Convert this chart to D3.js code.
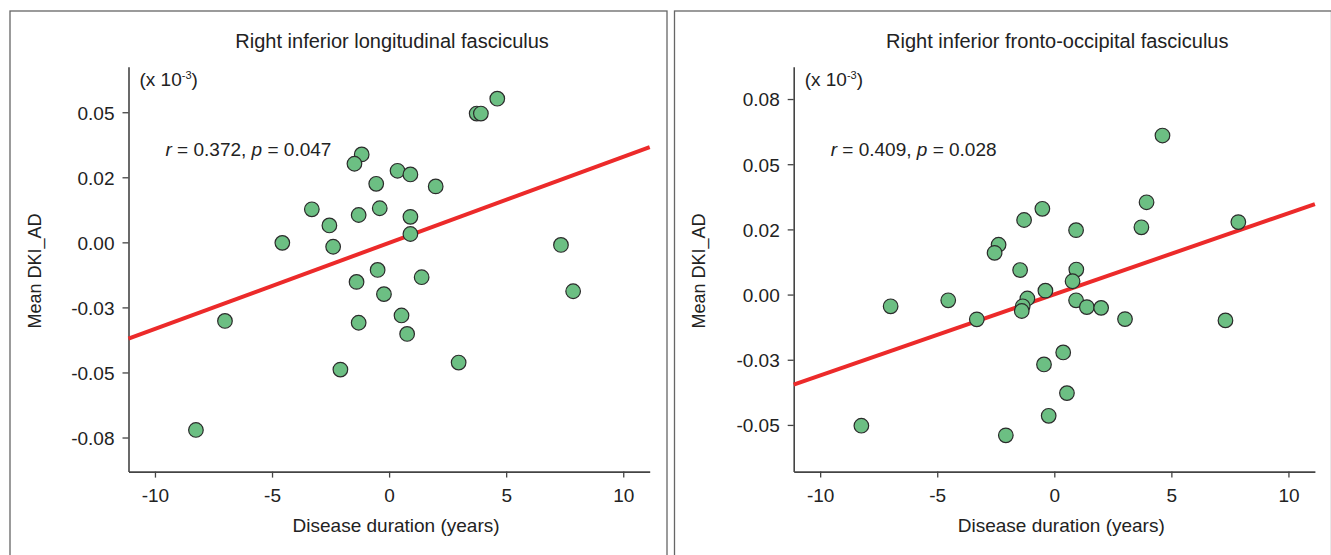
<!DOCTYPE html>
<html>
<head>
  <meta charset="UTF-8">
  <style>
    body { margin: 0; background: #fff; }
    svg { display: block; font-family: "Liberation Sans", Arial, sans-serif; }
  </style>
  <title>DKI_AD vs disease duration</title>
</head>
<body>
<svg></svg>
<script src="https://d3js.org/d3.v7.min.js"></script>

<script>

let width = 1331, height = 555;

// ---- data ----
let titles = ["Right inferior longitudinal fasciculus", "Right inferior fronto-occipital fasciculus"];
let stats = [["0.372", "0.047"], ["0.409", "0.028"]];

// disease duration (years), left panel
let ilfX = [4.62, 3.74, 3.92, -1.17, -1.48, 0.36, 0.91, -0.55, 1.99, -3.30,
            -0.40, -1.30, 0.91, -2.55, 0.91, -4.56, -2.39, 7.34, -0.49, -1.39,
            1.39, 7.86, -0.22, -7.01, -1.30, 0.53, 0.77, -2.08, 2.97, -8.25];
// mean DKI_AD (x 10^-3), left panel
let ilfY = [0.0552, 0.0495, 0.0495, 0.0338, 0.0302, 0.0275, 0.0261, 0.0225, 0.0215, 0.0127,
            0.0131, 0.0105, 0.0098, 0.0065, 0.0032, -0.0002, -0.0017, -0.0010, -0.0106, -0.0152,
            -0.0134, -0.0188, -0.0199, -0.0302, -0.0309, -0.0281, -0.0352, -0.0489, -0.0462, -0.0721];

// right panel
let ifofX = [4.62, 3.94, -0.51, -1.29, 3.72, 7.86, 0.93, -2.38, -2.55, -1.46,
             0.94, 0.78, -0.38, -1.15, -1.35, -1.39, 0.93, 1.39, 2.00, -3.31,
             3.02, 7.31, 0.38, -0.44, 0.54, -0.24, -2.07, -4.53, -6.99, -8.24];
let ifofY = [0.0610, 0.0354, 0.0329, 0.0286, 0.0258, 0.0278, 0.0247, 0.0191, 0.0160, 0.0094,
             0.0096, 0.0051, 0.0015, -0.0015, -0.0045, -0.0063, -0.0022, -0.0048, -0.0051, -0.0095,
             -0.0094, -0.0099, -0.0222, -0.0268, -0.0378, -0.0465, -0.0540, -0.0022, -0.0045, -0.0503];

// fit lines: [intercept, slope]
let fits = [[-0.0002, 0.00331], [0.0001, 0.00311]];

let xTicks = [-10, -5, 0, 5, 10];
let xLabels = ["-10", "-5", "0", "5", "10"];
let yTicksL = [-0.075, -0.05, -0.025, 0, 0.025, 0.05];
let yLabelsL = ["-0.08", "-0.05", "-0.03", "0.00", "0.02", "0.05"];
let yTicksR = [-0.05, -0.025, 0, 0.025, 0.05, 0.075];
let yLabelsR = ["-0.05", "-0.03", "0.00", "0.02", "0.05", "0.08"];

let xDomain = [-11.13, 11.13];
let yDomainL = [-0.0881, 0.0675];
let yDomainR = [-0.0679, 0.0874];

let svg = d3.select("svg")
    .attr("width", width)
    .attr("height", height);

let panels = [
  { left: 10, axisX: 128.5, xs: ilfX, ys: ilfY, yDom: yDomainL, yT: yTicksL, yL: yLabelsL },
  { left: 674.5, axisX: 793.7, xs: ifofX, ys: ifofY, yDom: yDomainR, yT: yTicksR, yL: yLabelsR }
];

panels.forEach((p, i) => {
    let g = svg.append("g");

    // panel frame
    g.append("rect")
        .attr("x", p.left).attr("y", 11)
        .attr("width", 657).attr("height", 600)
        .attr("fill", "none")
        .attr("stroke", "#666")
        .attr("stroke-width", 1.3);

    let x = d3.scaleLinear().domain(xDomain).range([p.axisX, p.axisX + 521.2]);
    let y = d3.scaleLinear().domain(p.yDom).range([471.6, 66.7]);

    // x axis
    let xa = g.append("g")
        .attr("transform", "translate(0," + 471.6 + ")")
        .call(d3.axisBottom(x).tickValues(xTicks).tickSize(6).tickSizeOuter(0).tickPadding(7).tickFormat((d, k) => xLabels[k]));
    // y axis
    let ya = g.append("g")
        .attr("transform", "translate(" + p.axisX + ",0)")
        .call(d3.axisLeft(y).tickValues(p.yT).tickSize(6).tickSizeOuter(0).tickPadding(8).tickFormat((d, k) => p.yL[k]));

    [xa, ya].forEach(a => {
        a.select(".domain").attr("stroke", "#444").attr("stroke-width", 1.6);
        a.selectAll(".tick line").attr("stroke", "#444").attr("stroke-width", 1.3);
        a.selectAll(".tick text")
            .attr("fill", "#222")
            .style("font-size", "19px")
            .style("font-family", "'Liberation Sans', Arial, sans-serif");
    });
    xa.selectAll(".tick text").attr("dy", "0.9em");
    ya.selectAll(".tick text").attr("dy", "0.36em");

    // title
    g.append("text")
        .attr("x", x(0) + 3).attr("y", 47.5)
        .attr("text-anchor", "middle")
        .style("font-size", "20px")
        .attr("fill", "#222")
        .text(titles[i]);

    // axis titles
    g.append("text")
        .attr("x", x(0) + 7).attr("y", 532)
        .attr("text-anchor", "middle")
        .style("font-size", "19px")
        .attr("fill", "#222")
        .text("Disease duration (years)");

    g.append("text")
        .attr("transform", "translate(" + (p.left + 30.5) + ",271) rotate(-90)")
        .attr("text-anchor", "middle")
        .style("font-size", "18px")
        .attr("fill", "#222")
        .text("Mean DKI_AD");

    // scale note
    let note = g.append("text")
        .attr("x", p.axisX + 11).attr("y", 86)
        .style("font-size", "19px")
        .attr("fill", "#222");
    note.append("tspan").text("(x 10");
    note.append("tspan").attr("dy", -7).style("font-size", "11px").text("-3");
    note.append("tspan").attr("dy", 7).text(")");

    // statistics
    let st = g.append("text")
        .attr("x", p.axisX + 37).attr("y", 156)
        .style("font-size", "19px")
        .attr("fill", "#222");
    st.append("tspan").style("font-style", "italic").text("r");
    st.append("tspan").text(" = " + stats[i][0] + ", ");
    st.append("tspan").style("font-style", "italic").text("p");
    st.append("tspan").text(" = " + stats[i][1]);

    // fit line
    let f = fits[i];
    g.append("line")
        .attr("x1", x(xDomain[0])).attr("y1", y(f[0] + f[1] * xDomain[0]))
        .attr("x2", x(xDomain[1])).attr("y2", y(f[0] + f[1] * xDomain[1]))
        .attr("stroke", "#ec2a2a")
        .attr("stroke-width", 4);

    // points
    g.append("g")
        .selectAll("circle")
        .data(p.xs.map((v, k) => [v, p.ys[k]]))
        .enter()
        .append("circle")
        .attr("cx", d => x(d[0]))
        .attr("cy", d => y(d[1]))
        .attr("r", 7.3)
        .attr("fill", "#6cbf83")
        .attr("stroke", "#2b2b2b")
        .attr("stroke-width", 1.2);
});

</script>

</body>
</html>
